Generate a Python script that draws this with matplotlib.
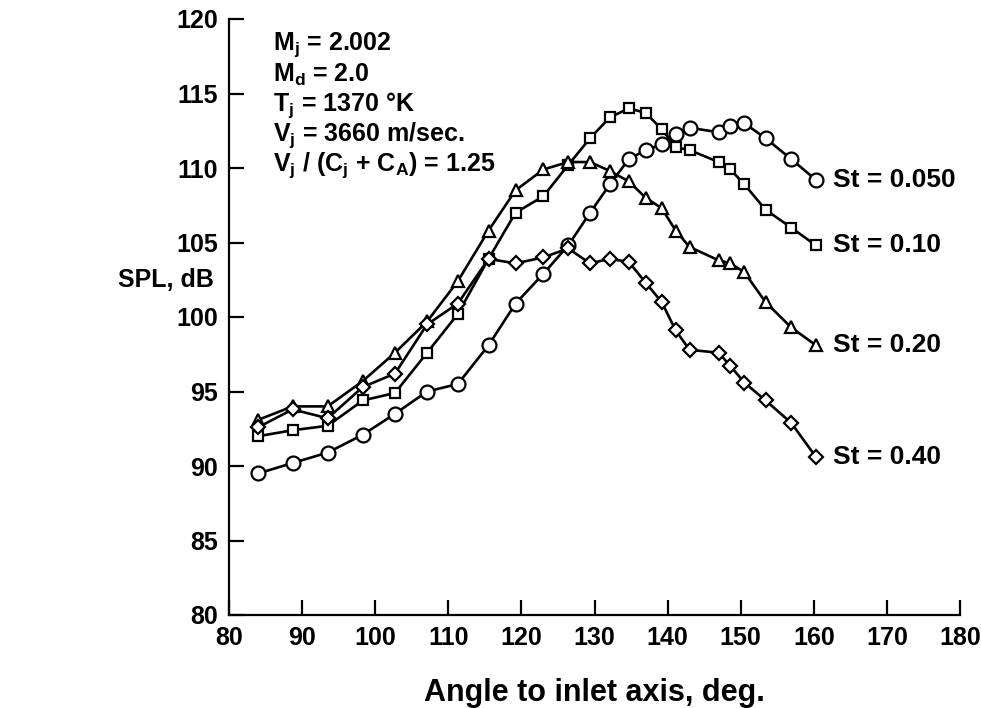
import matplotlib
matplotlib.use("Agg")
import matplotlib.pyplot as plt

plt.rcParams['font.family'] = ['Liberation Sans', 'DejaVu Sans']
plt.rcParams['font.weight'] = 'bold'
plt.rcParams['mathtext.fontset'] = 'custom'
plt.rcParams['mathtext.rm'] = 'Liberation Sans:bold'
plt.rcParams['mathtext.it'] = 'Liberation Sans:bold'
plt.rcParams['mathtext.bf'] = 'Liberation Sans:bold'

angles = [84.0, 88.7, 93.5, 98.3, 102.7, 107.1, 111.3, 115.5, 119.2, 123.0, 126.4, 129.4,
          132.1, 134.7, 137.0, 139.2, 141.1, 143.0, 147.0, 148.6, 150.5, 153.4, 156.9, 160.3]

spl_st050 = [89.5, 90.2, 90.9, 92.1, 93.5, 95.0, 95.5, 98.1, 100.9, 102.9, 104.8, 107.0,
             108.9, 110.6, 111.2, 111.6, 112.3, 112.7, 112.4, 112.8, 113.0, 112.0, 110.6, 109.2]
spl_st010 = [92.0, 92.4, 92.7, 94.4, 94.9, 97.6, 100.2, 103.9, 107.0, 108.1, 110.2, 112.0,
             113.4, 114.0, 113.7, 112.6, 111.4, 111.2, 110.4, 109.9, 108.9, 107.2, 106.0, 104.8]
spl_st020 = [93.1, 94.0, 94.0, 95.7, 97.6, 99.7, 102.4, 105.8, 108.5, 109.9, 110.4, 110.4,
             109.8, 109.1, 108.0, 107.3, 105.8, 104.7, 103.8, 103.6, 103.0, 101.0, 99.3, 98.1]
spl_st040 = [92.6, 93.8, 93.2, 95.3, 96.2, 99.5, 100.9, 103.9, 103.6, 104.0, 104.6, 103.6,
             103.9, 103.7, 102.3, 101.0, 99.1, 97.8, 97.6, 96.7, 95.6, 94.4, 92.9, 90.6]

series_labels = ['St = 0.050', 'St = 0.10', 'St = 0.20', 'St = 0.40']
x_ticks = [80, 90, 100, 110, 120, 130, 140, 150, 160, 170, 180]
y_ticks = [80, 85, 90, 95, 100, 105, 110, 115, 120]

info_lines = [r'M$_{j}$ = 2.002',
              r'M$_{d}$ = 2.0',
              r'T$_{j}$ = 1370 °K',
              r'V$_{j}$ = 3660 m/sec.',
              r'V$_{j}$ / (C$_{j}$ + C$_{A}$) = 1.25']

fig = plt.figure(figsize=(9.81, 7.08), dpi=100)
ax = fig.add_axes([229/981, 93/708, 731/981, 596/708])

styles = [('o', 10.0), ('s', 7.5), ('^', 8.5), ('D', 7.5)]
all_series = [spl_st050, spl_st010, spl_st020, spl_st040]
for vals, (mk, ms), lab in zip(all_series, styles, series_labels):
    ax.plot(angles, vals, color='black', lw=1.9, marker=mk, ms=ms,
            mfc='white', mec='black', mew=1.6, clip_on=False, zorder=3)
    ax.annotate(lab, xy=(angles[-1], vals[-1]), xytext=(12, 0),
                textcoords='offset points', fontsize=19, fontweight='bold',
                va='center', ha='left')

ax.set_xlim(80, 180)
ax.set_ylim(80, 120)
ax.set_xticks(x_ticks)
ax.set_yticks(y_ticks)
ax.spines['top'].set_visible(False)
ax.spines['right'].set_visible(False)
for s in ['left', 'bottom']:
    ax.spines[s].set_linewidth(1.6)
ax.tick_params(direction='in', length=11, width=1.6, labelsize=18, pad=8)
for lbl in ax.get_xticklabels() + ax.get_yticklabels():
    lbl.set_fontweight('bold')

ax.set_xlabel('Angle to inlet axis, deg.', fontsize=22, fontweight='bold', labelpad=20)
fig.text(166/981, 1 - 280/708, 'SPL, dB', fontsize=18, fontweight='bold',
         ha='center', va='center')

for i, line in enumerate(info_lines):
    fig.text(273/981, 1 - (45 + 30*i)/708, line, fontsize=18, fontweight='bold',
             ha='left', va='center')

fig.savefig('out.png', dpi=100)
